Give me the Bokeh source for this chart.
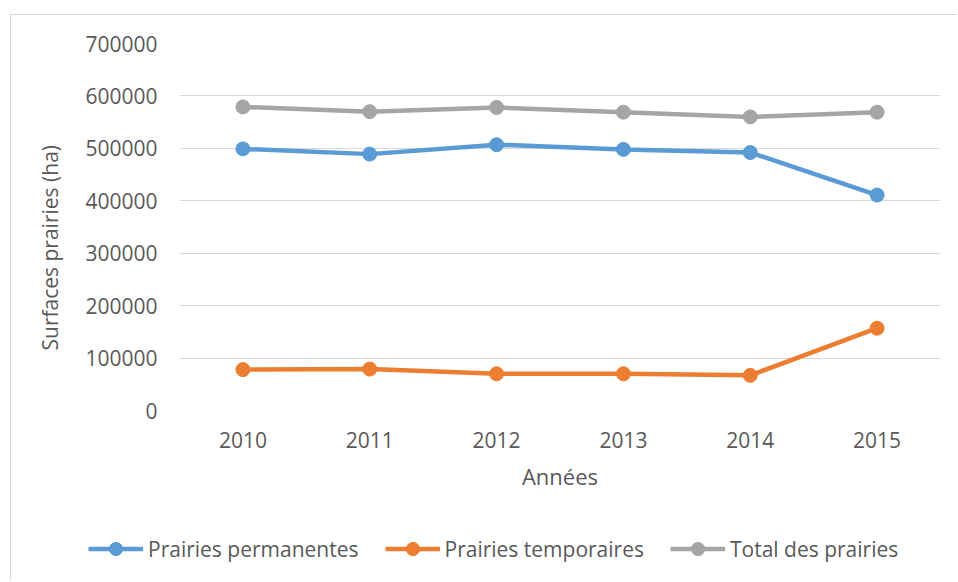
from bokeh.plotting import figure
from bokeh.layouts import column
from bokeh.models import (Range1d, FactorRange, FixedTicker, BasicTickFormatter,
                          Legend, LegendItem, Title, InlineStyleSheet)
from bokeh.embed import file_html
from bokeh.resources import INLINE

years = ["2010", "2011", "2012", "2013", "2014", "2015"]
permanentes = [499000, 489000, 507000, 498000, 492000, 411000]
temporaires = [78000, 79000, 70000, 70000, 67000, 157000]
total = [579000, 570000, 578000, 569000, 560000, 569000]
y_ticks = [0, 100000, 200000, 300000, 400000, 500000, 600000, 700000]

series_names = ["Prairies permanentes", "Prairies temporaires", "Total des prairies"]
colors = ["#5B9BD5", "#ED7D31", "#A5A5A5"]
series = [permanentes, temporaires, total]

FONT = "Open Sans"
TXT = "#595959"
BORDER = "#D9D9D9"

# ---- main chart ----
p = figure(width=947, height=510, output_backend="svg", toolbar_location=None,
           x_range=FactorRange(*years, range_padding=0),
           y_range=Range1d(0, 700000),
           min_border_left=168, min_border_right=18,
           min_border_top=28, min_border_bottom=115)
p.frame_align = False
p.margin = (14, 0, 0, 10)
p.stylesheets = [InlineStyleSheet(css=f":host {{ border-left: 1px solid {BORDER}; border-top: 1px solid {BORDER}; }}")]
p.outline_line_color = None
p.background_fill_color = "white"
p.border_fill_color = "white"

p.xgrid.grid_line_color = None
p.ygrid.grid_line_color = BORDER
p.ygrid.grid_line_width = 1
p.ygrid.ticker = FixedTicker(ticks=y_ticks)

p.yaxis.ticker = FixedTicker(ticks=y_ticks)
p.yaxis.formatter = BasicTickFormatter(use_scientific=False)
for ax in (p.xaxis[0], p.yaxis[0]):
    ax.axis_line_color = None
    ax.major_tick_line_color = None
    ax.minor_tick_line_color = None
    ax.major_label_text_font = FONT
    ax.major_label_text_font_size = "21px"
    ax.major_label_text_color = TXT
    ax.axis_label_text_font = FONT
    ax.axis_label_text_font_style = "normal"
    ax.axis_label_text_color = TXT
p.yaxis.major_label_standoff = 16
p.xaxis.major_label_standoff = 15
p.xaxis.axis_label = "Années"
p.xaxis.axis_label_text_font_size = "22px"
p.xaxis.axis_label_standoff = 10

for vals, col in zip(series, colors):
    p.line(years, vals, line_color=col, line_width=4.5)
    p.scatter(years, vals, size=14, fill_color=col, line_color=col, marker="circle")

ytitle = Title(text="Surfaces prairies (ha)", align="left", offset=60,
               vertical_align="middle", standoff=36,
               text_font=FONT, text_font_size="21px", text_font_style="normal",
               text_color=TXT)
p.add_layout(ytitle, "left")

# ---- legend strip (series drawn off-view so only the legend keys show) ----
q = figure(width=947, height=57, output_backend="svg", toolbar_location=None,
           x_range=FactorRange(*years, range_padding=0),
           y_range=Range1d(-2000000, -1000000),
           min_border_left=0, min_border_right=0, min_border_top=0, min_border_bottom=0)
q.frame_align = False
q.margin = (0, 0, 0, 10)
q.stylesheets = [InlineStyleSheet(css=f":host {{ border-left: 1px solid {BORDER}; }}")]
q.axis.visible = False
q.grid.visible = False
q.outline_line_color = None
q.background_fill_color = "white"
q.border_fill_color = "white"

items = []
for name, vals, col in zip(series_names, series, colors):
    r1 = q.line(years, vals, line_color=col, line_width=4.5)
    r2 = q.scatter(years, vals, size=14, fill_color=col, line_color=col, marker="circle")
    items.append(LegendItem(label=name, renderers=[r1, r2]))

legend = Legend(items=items, orientation="horizontal", location=(77, 16),
                padding=0, margin=0, spacing=26, glyph_width=55, glyph_height=33,
                label_standoff=5, border_line_color=None, background_fill_alpha=0,
                label_text_font=FONT, label_text_font_size="21px", label_text_color=TXT)
q.add_layout(legend, "center")

layout = column(p, q, spacing=0)
open("out.html", "w").write(file_html(layout, INLINE))
